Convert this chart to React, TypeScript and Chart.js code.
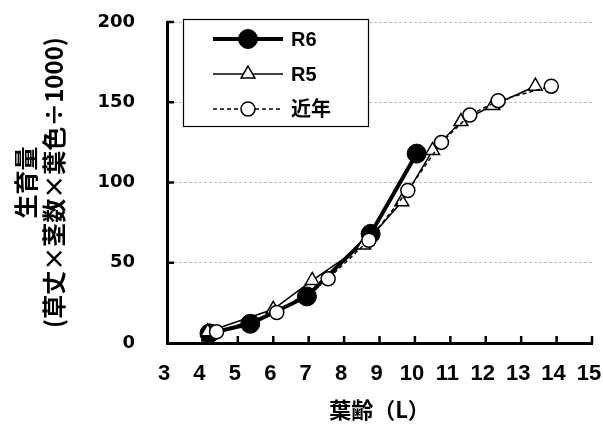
import { useEffect, useRef } from "react";
import { Chart, registerables } from "chart.js";
import type { Plugin } from "chart.js";

Chart.register(...registerables);

// 葉齢 (x) と 生育量 (y)
const r6Age = [4.2, 5.35, 6.95, 8.75, 10.05];
const r6Growth = [6, 12, 29, 68, 118];
const r5Age = [4.15, 6.0, 7.1, 8.55, 9.63, 10.5, 11.3, 12.2, 13.4];
const r5Growth = [7, 21, 39, 61, 88, 120, 138, 148, 160];
const avgAge = [4.4, 6.1, 7.55, 8.7, 9.8, 10.75, 11.55, 12.35, 13.85];
const avgGrowth = [7, 19, 40, 64, 95, 125, 142, 151, 160];

const seriesLabels = ["R6", "R5", "近年"];
const xTitle = "葉齢（L）";
const yTitle = ["生育量", "(草丈×茎数×葉色÷1000)"];

const toPoints = (xs: number[], ys: number[]) => xs.map((x, i) => ({ x, y: ys[i] }));

function drawMarker(ctx: CanvasRenderingContext2D, style: string, x: number, y: number, r: number) {
    ctx.beginPath();
    if (style === "triangle") {
        for (let k = 0; k < 3; k++) {
            const a = (k * 2 * Math.PI) / 3;
            const px = x + Math.sin(a) * r;
            const py = y - Math.cos(a) * r;
            if (k === 0) ctx.moveTo(px, py);
            else ctx.lineTo(px, py);
        }
        ctx.closePath();
    } else {
        ctx.arc(x, y, r, 0, Math.PI * 2);
    }
    ctx.fill();
    ctx.stroke();
}

// tick marks pointing into the plot
const insideTicks: Plugin = {
    id: "insideTicks",
    beforeDatasetsDraw(chart) {
        const { ctx, chartArea, scales } = chart;
        const len = 7;
        ctx.save();
        ctx.strokeStyle = "#000";
        ctx.lineWidth = 2.5;
        ctx.beginPath();
        scales.x.ticks.forEach((t) => {
            if (t.value <= (scales.x.min as number)) return;
            const px = scales.x.getPixelForValue(t.value);
            ctx.moveTo(px, chartArea.bottom);
            ctx.lineTo(px, chartArea.bottom - len);
        });
        scales.y.ticks.forEach((t) => {
            if (t.value <= (scales.y.min as number)) return;
            const py = scales.y.getPixelForValue(t.value);
            ctx.moveTo(chartArea.left, py);
            ctx.lineTo(chartArea.left + len, py);
        });
        ctx.stroke();
        ctx.restore();
    },
};

// boxed legend inside the plot, top left
const boxLegend: Plugin = {
    id: "boxLegend",
    afterDraw(chart) {
        const { ctx } = chart;
        const box = { left: 183, top: 19, right: 368, bottom: 126 };
        const rows = [39, 74, 109];
        const lineFrom = 213;
        const lineTo = 283;
        const textX = 291;
        ctx.save();
        ctx.fillStyle = "#fff";
        ctx.fillRect(box.left, box.top, box.right - box.left, box.bottom - box.top);
        ctx.strokeStyle = "#000";
        ctx.lineWidth = 1.2;
        ctx.setLineDash([]);
        ctx.strokeRect(box.left + 0.5, box.top + 0.5, box.right - box.left, box.bottom - box.top);

        chart.data.datasets.forEach((ds: any, i: number) => {
            const y = rows[i];
            ctx.save();
            ctx.strokeStyle = ds.borderColor;
            ctx.lineWidth = ds.borderWidth;
            ctx.setLineDash(ds.borderDash || []);
            ctx.beginPath();
            ctx.moveTo(lineFrom, y);
            ctx.lineTo(lineTo, y);
            ctx.stroke();
            ctx.setLineDash([]);
            ctx.fillStyle = ds.pointBackgroundColor;
            ctx.strokeStyle = ds.pointBorderColor;
            ctx.lineWidth = ds.pointBorderWidth;
            drawMarker(ctx, ds.pointStyle, (lineFrom + lineTo) / 2, y, ds.pointRadius);
            ctx.restore();

            ctx.fillStyle = "#000";
            ctx.font = 'bold 20px "Liberation Sans", "Noto Sans CJK JP", sans-serif';
            ctx.textBaseline = "middle";
            ctx.textAlign = "left";
            ctx.fillText(ds.label, textX, y + 1);
        });
        ctx.restore();
    },
};

export default function App() {
    const canvasRef = useRef<HTMLCanvasElement>(null);

    useEffect(() => {
        if (!canvasRef.current) return;
        const chart = new Chart(canvasRef.current, {
            type: "line",
            data: {
                datasets: [
                    {
                        label: seriesLabels[0],
                        data: toPoints(r6Age, r6Growth),
                        borderColor: "#000",
                        borderWidth: 4,
                        pointStyle: "circle",
                        pointRadius: 9.5,
                        pointBackgroundColor: "#000",
                        pointBorderColor: "#000",
                        pointBorderWidth: 1,
                        tension: 0,
                        order: 3,
                    },
                    {
                        label: seriesLabels[1],
                        data: toPoints(r5Age, r5Growth),
                        borderColor: "#000",
                        borderWidth: 1.5,
                        pointStyle: "triangle",
                        pointRadius: 8,
                        pointBackgroundColor: "#fff",
                        pointBorderColor: "#000",
                        pointBorderWidth: 1.5,
                        tension: 0,
                        order: 2,
                    },
                    {
                        label: seriesLabels[2],
                        data: toPoints(avgAge, avgGrowth),
                        borderColor: "#000",
                        borderWidth: 1.5,
                        borderDash: [4, 3],
                        pointStyle: "circle",
                        pointRadius: 7,
                        pointBackgroundColor: "#fff",
                        pointBorderColor: "#000",
                        pointBorderWidth: 1.5,
                        tension: 0,
                        order: 1,
                    },
                ],
            },
            options: {
                animation: false,
                responsive: false,
                devicePixelRatio: 1,
                layout: { padding: { left: 0, right: 11, top: 22, bottom: 0 } },
                plugins: {
                    legend: { display: false },
                    tooltip: { enabled: false },
                },
                scales: {
                    x: {
                        type: "linear",
                        min: 3,
                        max: 15,
                        ticks: {
                            stepSize: 1,
                            color: "#000",
                            padding: 18,
                            labelOffset: -3,
                            maxRotation: 0,
                            font: { family: '"Liberation Sans", Arial, sans-serif', size: 22, weight: "bold" },
                        },
                        grid: { drawOnChartArea: false, drawTicks: false },
                        border: { display: true, color: "#000", width: 3 },
                        title: {
                            display: true,
                            text: xTitle,
                            color: "#000",
                            font: { family: '"Noto Sans CJK JP", sans-serif', size: 22, weight: "bold", lineHeight: 1.2 },
                            padding: { top: 0, bottom: 2 },
                        },
                        afterFit: (s: any) => {
                            s.height = 82;
                            s.paddingLeft = 0;
                            s.paddingRight = 0;
                        },
                    },
                    y: {
                        min: 0,
                        max: 200,
                        ticks: {
                            stepSize: 50,
                            color: "#000",
                            padding: 32,
                            font: { family: '"DejaVu Sans", sans-serif', size: 18, weight: "bold" },
                        },
                        grid: {
                            drawTicks: false,
                            lineWidth: 1,
                            color: (c: any) => (c.tick && c.tick.value === 0 ? "rgba(0,0,0,0)" : "#bdbdbd"),
                        },
                        border: { display: true, color: "#000", width: 3, dash: [3, 2] },
                        title: {
                            display: true,
                            text: yTitle,
                            color: "#000",
                            font: { family: '"Noto Sans CJK JP", sans-serif', size: 24, weight: "bold", lineHeight: 1.2 },
                            padding: { top: 11, bottom: 0 },
                        },
                        afterFit: (s: any) => {
                            s.width = 167;
                            s.paddingTop = 0;
                            s.paddingBottom = 0;
                        },
                    },
                },
            },
            plugins: [insideTicks, boxLegend],
        });
        return () => chart.destroy();
    }, []);

    return (
        <div style={{ position: "fixed", left: 0, top: 0, width: 603, height: 425, background: "#fff" }}>
            <canvas ref={canvasRef} width={603} height={425} />
        </div>
    );
}
